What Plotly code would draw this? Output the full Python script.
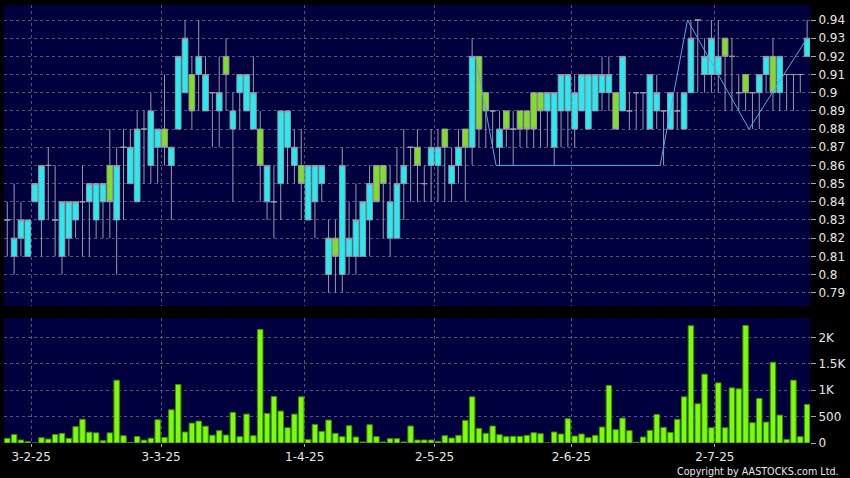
import plotly.graph_objects as go

# ---------------- data ----------------
n_days = 118
day_idx = list(range(n_days))

body_hi = [0.83,0.82,0.83,0.83,0.85,0.86,0.86,0.83,0.84,0.84,0.84,0.84,0.85,0.85,0.85,0.86,0.86,0.87,0.87,0.88,
           0.88,0.89,0.88,0.88,0.87,0.92,0.93,0.91,0.92,0.91,0.90,0.90,0.92,0.89,0.91,0.91,0.90,0.88,0.86,0.84,
           0.89,0.89,0.87,0.86,0.86,0.86,0.86,0.82,0.82,0.86,0.82,0.83,0.84,0.85,0.86,0.86,0.84,0.85,0.86,0.87,
           0.87,0.85,0.87,0.87,0.88,0.86,0.87,0.88,0.92,0.92,0.90,0.89,0.88,0.89,0.88,0.89,0.89,0.90,0.90,0.90,
           0.90,0.91,0.91,0.90,0.91,0.91,0.91,0.91,0.91,0.90,0.92,0.89,0.90,0.90,0.91,0.90,0.89,0.90,0.89,0.90,
           0.93,0.94,0.92,0.93,0.92,0.93,0.92,0.90,0.91,0.90,0.91,0.92,0.92,0.92,0.91,0.91,0.91,0.93]
body_lo = [0.83,0.81,0.82,0.81,0.84,0.83,0.86,0.83,0.81,0.82,0.83,0.84,0.84,0.83,0.84,0.84,0.83,0.87,0.85,0.84,
           0.88,0.86,0.87,0.87,0.86,0.88,0.90,0.89,0.91,0.89,0.90,0.89,0.91,0.88,0.90,0.89,0.88,0.86,0.84,0.84,
           0.85,0.87,0.86,0.85,0.83,0.84,0.85,0.80,0.81,0.80,0.81,0.81,0.81,0.83,0.84,0.85,0.82,0.82,0.85,0.87,
           0.86,0.85,0.86,0.86,0.87,0.85,0.86,0.87,0.87,0.88,0.89,0.89,0.87,0.88,0.88,0.88,0.88,0.88,0.89,0.89,
           0.87,0.89,0.89,0.88,0.89,0.88,0.89,0.90,0.90,0.88,0.89,0.89,0.90,0.90,0.88,0.89,0.89,0.88,0.89,0.88,
           0.90,0.94,0.91,0.91,0.91,0.92,0.92,0.90,0.90,0.90,0.90,0.91,0.90,0.90,0.91,0.91,0.91,0.92]
highs = [0.84,0.85,0.84,0.83,0.85,0.86,0.87,0.86,0.84,0.84,0.84,0.86,0.85,0.85,0.85,0.88,0.87,0.88,0.88,0.89,
         0.89,0.90,0.88,0.91,0.87,0.92,0.94,0.92,0.94,0.92,0.90,0.92,0.93,0.90,0.91,0.91,0.92,0.89,0.86,0.86,
         0.89,0.89,0.88,0.88,0.86,0.86,0.86,0.83,0.83,0.87,0.84,0.85,0.84,0.86,0.86,0.86,0.86,0.87,0.88,0.87,
         0.88,0.86,0.88,0.88,0.88,0.87,0.88,0.88,0.93,0.92,0.90,0.89,0.89,0.89,0.89,0.89,0.89,0.90,0.90,0.90,
         0.90,0.91,0.91,0.91,0.91,0.91,0.91,0.92,0.92,0.90,0.92,0.90,0.90,0.90,0.91,0.91,0.89,0.90,0.90,0.90,
         0.94,0.94,0.93,0.94,0.94,0.93,0.93,0.91,0.91,0.90,0.91,0.92,0.93,0.92,0.91,0.91,0.91,0.94]
lows = [0.81,0.80,0.81,0.81,0.84,0.81,0.83,0.81,0.80,0.81,0.82,0.81,0.81,0.82,0.82,0.82,0.80,0.83,0.85,0.84,
        0.85,0.85,0.85,0.86,0.83,0.88,0.90,0.88,0.89,0.89,0.87,0.87,0.89,0.84,0.88,0.89,0.88,0.84,0.83,0.82,
        0.83,0.85,0.85,0.83,0.83,0.82,0.84,0.79,0.79,0.79,0.80,0.80,0.81,0.81,0.84,0.82,0.81,0.82,0.83,0.84,
        0.84,0.84,0.84,0.84,0.84,0.84,0.85,0.84,0.86,0.87,0.87,0.87,0.86,0.87,0.86,0.87,0.87,0.87,0.87,0.87,
        0.86,0.87,0.87,0.87,0.89,0.88,0.89,0.89,0.89,0.88,0.89,0.88,0.88,0.88,0.88,0.88,0.86,0.88,0.88,0.88,
        0.90,0.90,0.90,0.90,0.90,0.89,0.89,0.89,0.89,0.88,0.88,0.90,0.89,0.89,0.89,0.89,0.90,0.92]
# U = cyan candle, D = green candle, E = open equals close
direction = ("EUUUUUEEUUUEUUUDUEUUEUUDUUUDUUEUDUUUUDUEUUUDUUUUDUUUUUDDUUUEDEUUDUUDUDDEUDEDDDDUUUUUUUUUUDUEEEUUEUEUUEUUUDEEDEUUDUEEEU")
volumes = [88,160,57,25,0,100,75,160,182,88,310,450,205,192,44,192,1189,138,12,123,
           55,91,440,107,629,1107,208,377,415,318,148,233,151,579,120,547,138,2148,560,880,
           604,289,547,874,63,352,220,434,182,120,327,113,19,346,120,19,82,82,19,321,
           57,57,57,31,138,94,145,428,874,277,182,321,157,120,126,126,145,195,176,0,
           208,170,459,132,170,101,145,302,1088,252,472,233,13,113,239,541,296,201,447,874,
           2220,742,1302,289,1138,289,1044,1025,2226,384,843,396,1528,528,69,1189,120,730]

zigzag_x = [68.5, 71.5, 95.5, 99.5, 108.5, 117]
zigzag_y = [0.92, 0.86, 0.86, 0.94, 0.88, 0.93]

month_first_idx = [4, 23, 44, 63, 83, 104]
month_labels = ["3-2-25", "3-3-25", "1-4-25", "2-5-25", "2-6-25", "2-7-25"]

price_ticks = [0.79, 0.80, 0.81, 0.82, 0.83, 0.84, 0.85, 0.86, 0.87, 0.88, 0.89, 0.90, 0.91, 0.92, 0.93, 0.94]
vol_ticks = [0, 500, 1000, 1500, 2000]
vol_tick_labels = ["0", "500", "1K", "1.5K", "2K"]

# ---------------- build OHLC ----------------
opens, closes = [], []
for d, hi, lo in zip(direction, body_hi, body_lo):
    if d == "U":
        opens.append(lo); closes.append(hi)
    elif d == "D":
        opens.append(hi); closes.append(lo)
    else:
        opens.append(hi); closes.append(hi)

CYAN = "#22eef2"
GREEN = "#7ee01e"
WICK = "#9a9aa6"
NAVY = "#00003e"
GRID = "#55557c"
TXT = "#e6e6e6"
FONT = "DejaVu Sans"

fig = go.Figure()
fig.add_trace(go.Candlestick(
    x=day_idx, open=opens, high=highs, low=lows, close=closes,
    xaxis="x", yaxis="y", whiskerwidth=0,
    increasing=dict(fillcolor=CYAN, line=dict(color=WICK, width=1)),
    decreasing=dict(fillcolor=GREEN, line=dict(color=WICK, width=1)),
    showlegend=False, hoverinfo="skip"))
fig.add_trace(go.Scatter(
    x=zigzag_x, y=zigzag_y, mode="lines", xaxis="x", yaxis="y",
    line=dict(color="#58a6e8", width=1), showlegend=False, hoverinfo="skip"))
fig.add_trace(go.Bar(
    x=day_idx, y=volumes, xaxis="x2", yaxis="y2", width=0.8,
    marker=dict(color="#7cfc0a", line=dict(color="#3e8c06", width=1)),
    showlegend=False, hoverinfo="skip"))

grid_x = [i - 0.5 for i in month_first_idx]
xr = [-0.48, 117.42]
common_x = dict(range=xr, tickvals=grid_x, showgrid=True, gridcolor=GRID, griddash="3px,3px",
                gridwidth=1, zeroline=False, showline=False, fixedrange=True)

fig.update_layout(
    width=850, height=478,
    margin=dict(l=4, r=36, t=5, b=35),
    paper_bgcolor="#000000", plot_bgcolor=NAVY,
    boxgap=0.1, boxgroupgap=0.08,
    font=dict(family=FONT, size=12, color=TXT),
    xaxis=dict(domain=[0, 1], anchor="y", showticklabels=False, ticks="",
               rangeslider=dict(visible=False), **common_x),
    xaxis2=dict(domain=[0, 1], anchor="y2", matches="x", ticktext=month_labels,
                ticks="outside", ticklen=3, tickcolor="#aaaaaa",
                tickfont=dict(family=FONT, size=12, color=TXT), **common_x),
    yaxis=dict(domain=[0.3128, 1], anchor="x", side="right", range=[0.78268, 0.94825],
               tickvals=price_ticks, ticktext=[f"{v:g}" for v in price_ticks],
               ticks="outside", ticklen=5, tickcolor="#aaaaaa",
               tickfont=dict(family=FONT, size=12, color=TXT),
               showgrid=True, gridcolor=GRID, griddash="3px,3px", zeroline=False, showline=False,
               fixedrange=True),
    yaxis2=dict(domain=[0, 0.2854], anchor="x2", side="right", range=[0, 2366],
                tickvals=vol_ticks, ticktext=vol_tick_labels,
                ticks="outside", ticklen=5, tickcolor="#aaaaaa",
                tickfont=dict(family=FONT, size=12, color=TXT),
                showgrid=True, gridcolor=GRID, griddash="3px,3px", zeroline=False, showline=False,
                fixedrange=True),
    annotations=[dict(text="Copyright by AASTOCKS.com Ltd.", xref="paper", yref="paper",
                      x=1.039, y=-0.064, xanchor="right", yanchor="middle", showarrow=False,
                      font=dict(family=FONT, size=9.6, color=TXT))],
)

fig.write_html("out.html",
               config={"displayModeBar": False, "staticPlot": True},
               post_script="document.body.style.margin='0';document.body.style.overflow='hidden';")
